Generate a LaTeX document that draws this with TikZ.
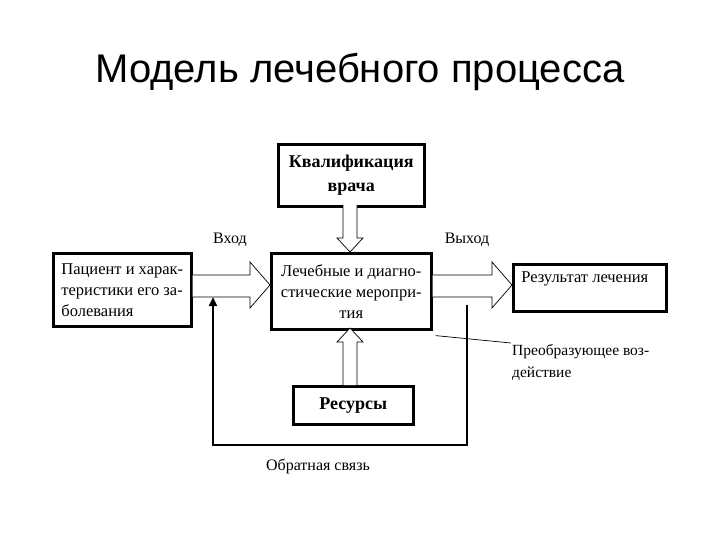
\documentclass[tikz,border=0pt]{standalone}
\usepackage{fontspec}
\setmainfont{Liberation Serif}
\newfontfamily\titlefont{Liberation Sans}
\usetikzlibrary{arrows.meta}
\begin{document}
\begin{tikzpicture}[x=1pt,y=-1pt,
  box/.style={draw,line width=2.6pt,align=left,inner sep=3pt,font=\fontsize{16.5}{21}\selectfont,anchor=north west},
  hollow/.style={draw,line width=0.7pt,fill=white},
  lbl/.style={font=\fontsize{16}{21}\selectfont,align=left}]
\useasboundingbox (0,0) rectangle (720,540);
\node[font=\titlefont\fontsize{40}{44}\selectfont] (title) at (360,72) {Модель лечебного процесса};
\node[box,minimum width=146pt,minimum height=62pt,align=center,font=\bfseries\fontsize{18}{24}\selectfont] (q) at (277,143) {Квалификация\\врача};
\node[box,minimum width=138pt,minimum height=73pt,inner xsep=4pt] (p) at (52,252) {Пациент и харак-\\теристики его за-\\болевания};
\node[box,minimum width=160pt,minimum height=76pt,align=center,inner sep=1pt] (c) at (270,252) {Лечебные и диагно-\\стические меропри-\\тия};
\node[box,minimum width=153pt,minimum height=47pt,text depth=22pt] (r) at (512,263) {Результат лечения\hspace{10pt}};
\node[box,minimum width=120pt,minimum height=38pt,align=center,font=\bfseries\fontsize{18}{22}\selectfont] (res) at (292,385) {Ресурсы};
\node[lbl] (in) at (230,240) {Вход};
\node[lbl] (out) at (467,240) {Выход};
\node[lbl,anchor=north west,font=\fontsize{15.5}{22}\selectfont,inner sep=1pt] (tr) at (511,343) {Преобразующее воз-\\действие};
\node[lbl] (fb) at (318,466) {Обратная связь};
% hollow arrows
\draw[hollow] (p.east|-0,275) -- (250,275) -- (250,262) -- (c.west|-0,285) -- (250,308) -- (250,297) -- (p.east|-0,297) ;
\draw[hollow] (c.east|-0,275) -- (492,275) -- (492,262) -- (r.west|-0,285) -- (492,308) -- (492,297) -- (c.east|-0,297);
\draw[hollow] (343,205) -- (343,238) -- (337,238) -- (350,252) -- (363,238) -- (357,238) -- (357,205);
\draw[hollow] (343,385) -- (343,342) -- (337,342) -- (350,328) -- (363,342) -- (357,342) -- (357,385);
% feedback
\coordinate (fs) at (467,305);
\coordinate (fe) at (213,297);
\draw[line width=2.4pt,-{Triangle[length=9pt,width=8pt]}] (fs) -- (467,445) -- (213,445) -- (fe);
\draw[line width=0.7pt] (c.south east) ++(3,5) -- (tr.north west);
\end{tikzpicture}
\end{document}
